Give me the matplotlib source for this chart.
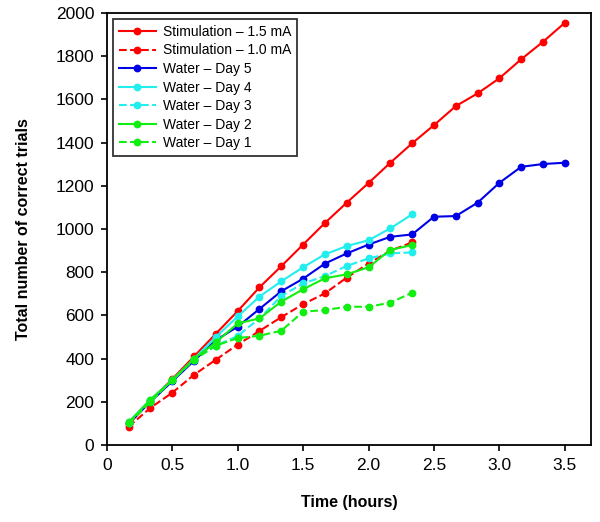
import matplotlib.pyplot as plt

plt.rcParams['font.family'] = ['Liberation Sans', 'DejaVu Sans']

# time points every 10 minutes
time_long = [i / 6 for i in range(1, 22)]
time_short = time_long[:14]

stim_15 = [95, 205, 305, 410, 515, 620, 730, 828, 928, 1028, 1122, 1213, 1307, 1397,
           1481, 1569, 1628, 1698, 1786, 1867, 1955]
stim_10 = [85, 172, 242, 325, 395, 465, 528, 592, 652, 702, 775, 840, 900, 938]
water_d5 = [100, 200, 295, 390, 485, 548, 630, 712, 770, 840, 887, 928, 964, 975,
            1057, 1060, 1122, 1214, 1288, 1301, 1307]
water_d4 = [105, 210, 300, 400, 500, 595, 687, 758, 823, 883, 921, 948, 1003, 1068]
water_d3 = [100, 205, 300, 395, 460, 505, 586, 690, 748, 782, 829, 864, 887, 892]
water_d2 = [105, 210, 300, 400, 475, 563, 586, 664, 721, 772, 790, 823, 903, 926]
water_d1 = [100, 200, 300, 395, 460, 495, 506, 529, 617, 625, 640, 640, 659, 705]

fig = plt.figure(figsize=(6, 5.22), dpi=100)
ax = fig.add_axes([0.178, 0.1475, 0.807, 0.8275])

red = '#ff0000'
blue = '#0000e6'
cyan = '#22eeee'
green = '#11ee11'

kw = dict(marker='o', markersize=4.6, linewidth=1.5)
ax.plot(time_long, stim_15, color=red, linestyle='-', label='Stimulation – 1.5 mA', **kw)
ax.plot(time_short, stim_10, color=red, linestyle='--', label='Stimulation – 1.0 mA', **kw)
ax.plot(time_long, water_d5, color=blue, linestyle='-', label='Water – Day 5', **kw)
ax.plot(time_short, water_d4, color=cyan, linestyle='-', label='Water – Day 4', **kw)
ax.plot(time_short, water_d3, color=cyan, linestyle='--', label='Water – Day 3', **kw)
ax.plot(time_short, water_d2, color=green, linestyle='-', label='Water – Day 2', **kw)
ax.plot(time_short, water_d1, color=green, linestyle='--', label='Water – Day 1', **kw)

ax.set_xlim(0, 3.7)
ax.set_ylim(0, 2000)
ax.set_xticks([0, 0.5, 1.0, 1.5, 2.0, 2.5, 3.0, 3.5])
ax.set_xticklabels(['0', '0.5', '1.0', '1.5', '2.0', '2.5', '3.0', '3.5'])
ax.set_yticks(range(0, 2001, 200))
ax.tick_params(direction='out', length=4, width=1.2, labelsize=12.5, pad=5,
               top=False, right=False)
for s in ax.spines.values():
    s.set_linewidth(1.3)

ax.set_xlabel('Time (hours)', fontsize=11.5, fontweight='bold', labelpad=16)
ax.set_ylabel('Total number of correct trials', fontsize=11.5, fontweight='bold', labelpad=18)

leg = ax.legend(loc='upper left', fontsize=10, frameon=True, fancybox=False,
                edgecolor='black', borderpad=0.4, labelspacing=0.33, handlelength=2.7,
                handletextpad=0.5, borderaxespad=0.45)
leg.get_frame().set_linewidth(1.3)

fig.savefig('out.png', dpi=100)
